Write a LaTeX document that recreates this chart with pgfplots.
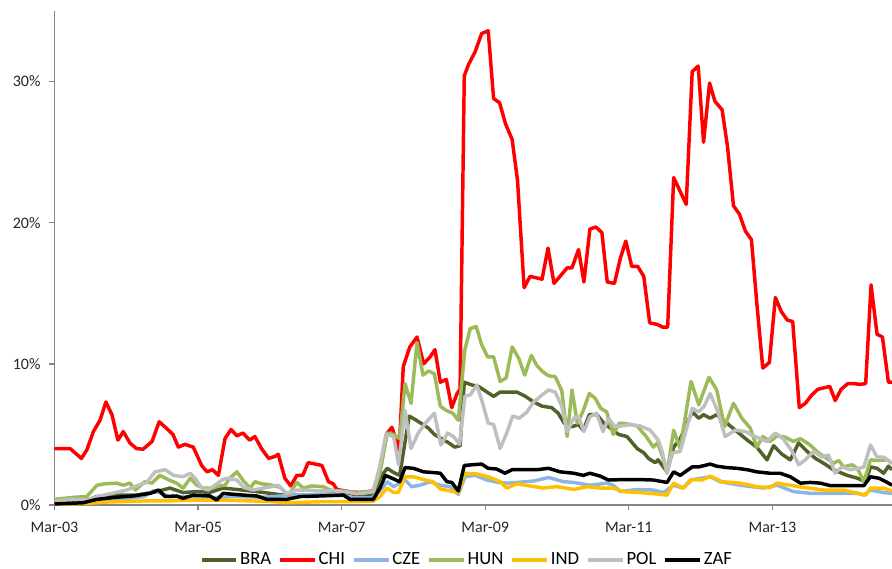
\documentclass[border=0pt]{standalone}
\usepackage{pgfplots}
\pgfplotsset{compat=1.18}
\usepackage{fontspec}
\setmainfont{Carlito}
\definecolor{cbra}{RGB}{79,98,40}
\definecolor{cchi}{RGB}{255,0,0}
\definecolor{ccze}{RGB}{141,180,226}
\definecolor{chun}{RGB}{155,187,89}
\definecolor{cind}{RGB}{255,192,0}
\definecolor{cpol}{RGB}{191,191,191}
\definecolor{czaf}{RGB}{0,0,0}
\definecolor{axgray}{RGB}{134,134,134}
\begin{document}
\begin{tikzpicture}
\useasboundingbox (-40.875pt,-47.25pt) rectangle (628.125pt,378.75pt);
\begin{axis}[
  at={(0pt,0pt)}, anchor=south west,
  scale only axis, width=628.125pt, height=370.5pt,
  xmin=0, xmax=140, ymin=0, ymax=35,
  enlargelimits=false,
  axis x line=bottom, axis y line=left,
  axis line style={draw=axgray, line width=1.2pt, -},
  tick align=outside, major tick length=4pt,
  tick style={draw=axgray, line width=1pt},
  xtick={0,24,48,72,96,120},
  xticklabels={Mar-03,Mar-05,Mar-07,Mar-09,Mar-11,Mar-13},
  ytick={0,10,20,30},
  yticklabels={0\%,10\%,20\%,30\%},
  ticklabel style={font=\fontsize{12}{14}\selectfont, text=black!85},
  yticklabel style={xshift=-3pt},
  xticklabel style={yshift=-5pt},
  legend columns=7,
  legend style={at={(0.4925,-0.111)}, anchor=center, draw=none, fill=none,
    font=\fontsize{14}{16}\selectfont, column sep=0pt,
    nodes={inner sep=1.5pt},
    /tikz/every even column/.append style={column sep=4pt}},
  legend image code/.code={\draw[#1] (0pt,0pt) -- (26pt,0pt);},
  every axis plot/.append style={line width=2.6pt, line join=round},
]
% BRA
\addplot[cbra] coordinates {(0,0.12)(4.8,0.23)(7.1,0.6)(10.4,0.7)(13.7,0.7)(17.1,0.95)(19.3,1.2)(21.5,0.88)(23.8,0.95)(26.0,0.9)(28.2,1.2)(30.5,1.1)(33.8,0.95)(38.3,0.7)(42.2,0.7)(46.1,0.78)(48.9,0.83)(51.1,0.7)(53.3,0.7)(54.4,1.9)(55.6,2.6)(56.7,2.3)(57.7,2.1)(59.3,6.3)(60.5,6.0)(61.6,5.7)(62.5,5.45)(63.5,5.0)(64.7,4.7)(65.9,4.4)(66.9,4.1)(67.8,4.2)(68.5,8.7)(69.8,8.5)(70.9,8.4)(72.3,8.0)(73.4,7.7)(74.5,8.0)(75.9,8.0)(77.3,8.0)(78.7,7.7)(80.1,7.3)(81.5,7.0)(83.1,6.9)(84.2,6.5)(85.2,5.8)(86.5,5.55)(87.6,5.7)(88.4,5.3)(89.4,6.4)(90.7,6.4)(91.8,5.8)(92.9,5.45)(94.3,5.0)(95.7,4.85)(97.4,4.0)(98.5,3.7)(99.3,3.3)(100.4,3.0)(100.9,3.2)(102.4,2.35)(103.5,4.1)(104.6,4.7)(106.6,6.6)(107.7,6.15)(108.5,6.4)(109.6,6.15)(110.7,6.4)(112.4,5.8)(114.1,5.2)(115.8,4.6)(117.4,4.1)(119.1,3.2)(120.2,4.2)(121.6,3.6)(123.0,3.2)(124.4,4.4)(125.8,3.8)(127.2,3.3)(128.6,2.95)(130.2,2.5)(132.5,2.1)(134.2,1.9)(135.6,1.65)(136.4,2.7)(137.5,2.6)(138.6,2.25)(139.4,2.75)(140,2.5)};
\addlegendentry{BRA}
% CHI
\addplot[cchi] coordinates {(0,4.0)(2.6,4.0)(4.5,3.3)(5.4,3.9)(6.5,5.2)(7.6,6.0)(8.6,7.3)(9.6,6.4)(10.6,4.6)(11.5,5.2)(12.6,4.4)(13.7,4.0)(14.8,3.95)(16.3,4.5)(17.5,5.9)(18.8,5.4)(19.8,5.0)(20.7,4.1)(21.8,4.3)(23.2,4.1)(24.6,2.8)(25.5,2.35)(26.4,2.5)(27.4,2.1)(28.5,4.7)(29.5,5.35)(30.5,4.9)(31.5,5.1)(32.6,4.6)(33.5,4.85)(34.6,4.0)(35.8,3.3)(36.9,3.45)(37.4,3.6)(38.5,1.9)(39.5,1.35)(40.5,2.1)(41.5,2.1)(42.4,3.0)(43.6,2.9)(44.7,2.8)(45.8,1.65)(46.6,1.5)(47.2,1.1)(48.5,1.0)(50,0.9)(51.5,0.9)(53.3,1.0)(54.4,2.5)(55.6,5.1)(56.4,5.5)(57.2,4.5)(57.6,3.7)(58.3,9.8)(59.4,11.2)(60.6,11.9)(61.7,10.0)(62.8,10.5)(63.6,11.0)(64.5,8.7)(65.5,8.9)(66.4,6.9)(67.3,7.9)(67.8,8.2)(68.5,30.4)(69.2,31.2)(70.3,32.1)(71.4,33.4)(72.5,33.6)(73.4,28.8)(74.4,28.5)(75.4,27.0)(76.5,25.9)(77.4,23.0)(78.5,15.4)(79.5,16.2)(81.5,16.0)(82.5,18.2)(83.5,15.7)(85.7,16.8)(86.5,16.8)(87.6,18.1)(88.5,15.8)(89.5,19.55)(90.5,19.7)(91.5,19.3)(92.4,15.8)(93.6,15.7)(94.6,17.5)(95.5,18.7)(96.5,16.9)(97.5,16.9)(98.5,16.2)(99.5,12.9)(100.7,12.8)(101.7,12.6)(102.5,12.6)(103.5,23.2)(104.5,22.3)(105.6,21.3)(106.6,30.7)(107.6,31.1)(108.5,25.7)(109.5,29.9)(110.4,28.6)(111.6,28.0)(112.5,25.4)(113.5,21.2)(114.5,20.6)(115.5,19.4)(116.5,18.8)(117.4,14.3)(118.4,9.7)(119.5,10.1)(120.5,14.7)(121.5,13.7)(122.5,13.1)(123.4,13.0)(124.5,6.9)(125.5,7.2)(126.6,7.8)(127.6,8.2)(128.6,8.3)(129.6,8.4)(130.5,7.4)(131.5,8.2)(132.6,8.6)(133.6,8.6)(134.6,8.55)(135.6,8.6)(136.5,15.6)(137.5,12.1)(138.4,11.9)(139.4,8.7)(140,8.7)};
\addlegendentry{CHI}
% CZE
\addplot[ccze] coordinates {(0,0.1)(5,0.15)(8,0.35)(12,0.45)(15,0.6)(16.5,1.0)(17.5,0.9)(19,0.6)(22,0.6)(26,0.5)(30,0.6)(35,0.55)(40,0.7)(44,0.75)(48,0.7)(50,0.5)(53,0.5)(54.4,1.0)(55.6,1.65)(56.7,1.3)(57.7,1.55)(58.6,1.77)(59.7,1.3)(61.1,1.4)(62.8,1.65)(64.5,1.4)(66.1,1.3)(67.5,0.75)(68.6,2.0)(70.3,2.1)(72.3,1.77)(74.2,1.6)(75.6,1.55)(77.3,1.6)(80.1,1.7)(82.6,1.95)(85.1,1.65)(86.8,1.6)(89.5,1.4)(92.3,1.55)(93.4,1.4)(94.6,0.95)(97.4,1.1)(100.1,1.06)(101.8,0.88)(103.5,1.4)(105.1,1.2)(106.3,1.77)(109.6,2.0)(111.3,1.65)(114.6,1.4)(118.5,1.2)(120.8,1.4)(123.5,0.95)(126.3,0.83)(129.7,0.83)(134.2,0.83)(135.3,0.7)(136.4,1.06)(138.6,0.88)(140,0.83)};
\addlegendentry{CZE}
% HUN
\addplot[chun] coordinates {(0,0.4)(3.4,0.55)(5.4,0.6)(7.1,1.4)(8.4,1.5)(10.4,1.55)(11.5,1.4)(12.6,1.55)(13.5,1.06)(15.1,1.65)(16.3,1.55)(17.6,2.1)(19.0,1.8)(20.4,1.55)(21.5,1.2)(22.7,1.9)(23.8,1.4)(24.9,1.2)(26.3,1.2)(27.4,1.35)(28.5,1.4)(29.3,1.9)(30.5,2.35)(31.6,1.7)(32.7,1.2)(33.5,1.65)(34.6,1.5)(35.8,1.45)(36.9,1.35)(37.7,1.25)(39.1,0.7)(40.5,1.6)(41.6,1.2)(43.0,1.35)(44.9,1.3)(46.1,1.06)(47.7,1.0)(49.4,0.95)(50.5,0.8)(51.6,0.95)(53.3,0.95)(54.4,2.25)(55.6,5.1)(56.7,5.0)(57.7,4.7)(58.6,8.6)(59.6,7.2)(60.6,11.5)(61.6,9.2)(62.5,9.5)(63.5,9.3)(64.5,7.0)(65.5,6.7)(66.6,6.5)(67.5,6.0)(68.6,11.0)(69.5,12.5)(70.5,12.65)(71.4,11.35)(72.4,10.5)(73.4,10.5)(74.5,8.75)(75.5,9.0)(76.5,11.2)(77.6,10.4)(78.6,9.2)(79.7,10.6)(80.6,9.9)(81.6,9.45)(82.6,9.15)(83.7,9.1)(84.8,8.1)(85.7,4.85)(86.5,8.15)(87.4,5.8)(88.4,6.7)(89.4,7.9)(90.4,7.55)(91.3,6.85)(92.3,6.6)(93.4,5.0)(94.4,5.8)(95.7,5.75)(97.4,5.6)(99.0,4.8)(100.1,4.1)(100.8,4.4)(101.6,3.5)(102.4,2.25)(103.5,5.3)(104.6,4.0)(106.4,8.75)(107.7,7.1)(109.4,9.05)(110.7,8.15)(112.0,5.55)(113.5,7.2)(114.9,6.15)(116.3,5.45)(117.4,4.1)(118.4,4.85)(119.6,4.5)(120.8,4.9)(122.2,4.8)(123.5,4.5)(124.7,4.7)(126.3,4.25)(127.7,3.7)(129.1,3.3)(130.2,2.95)(131.1,3.15)(131.9,2.7)(133.3,2.85)(134.2,2.6)(135.3,1.65)(136.4,3.2)(137.8,3.15)(139.2,3.2)(140,2.95)};
\addlegendentry{HUN}
% IND
\addplot[cind] coordinates {(0,0.05)(5,0.1)(8,0.2)(12,0.25)(16,0.3)(20,0.3)(24,0.35)(28,0.35)(32,0.3)(36,0.25)(38.8,0.16)(44.4,0.23)(50,0.23)(53.3,0.28)(54.4,0.6)(55.6,1.2)(56.7,0.88)(57.5,0.9)(58.6,2.0)(60.0,2.0)(61.7,1.8)(63.3,1.65)(64.5,1.13)(66.1,1.0)(67.5,0.88)(68.6,2.25)(70.6,2.2)(72.5,2.0)(74.5,1.65)(75.6,1.2)(77.3,1.5)(79.5,1.35)(81.7,1.2)(84.0,1.3)(86.8,1.1)(89.0,1.3)(91.2,1.2)(93.4,1.2)(95.1,0.95)(97.9,0.88)(100.7,0.78)(102.4,0.7)(103.5,1.55)(105.1,1.2)(106.6,1.8)(108.2,1.77)(109.6,2.05)(111.6,1.65)(114.6,1.55)(117.4,1.3)(119.6,1.23)(120.8,1.55)(123.0,1.4)(125.2,1.25)(128.6,1.06)(131.9,1.06)(135.6,0.7)(136.4,1.2)(138.6,1.2)(140,1.0)};
\addlegendentry{IND}
% POL
\addplot[cpol] coordinates {(0,0.25)(2.9,0.4)(5.4,0.35)(7.3,0.6)(9.6,0.83)(12.1,1.06)(14.0,1.4)(15.4,1.6)(16.8,2.35)(18.5,2.5)(19.9,2.1)(21.5,2.0)(22.7,2.25)(23.5,1.9)(24.6,1.2)(25.7,1.06)(26.8,1.4)(28.0,1.77)(28.8,1.9)(30.5,1.77)(31.6,1.25)(33.2,1.06)(34.9,1.2)(36.3,1.3)(37.4,1.4)(38.8,0.83)(40.5,1.06)(42.2,1.06)(44.4,1.0)(46.6,1.0)(48.3,0.95)(50.0,0.83)(51.6,0.83)(53.3,0.95)(54.4,2.8)(55.4,5.0)(56.7,4.85)(57.5,2.85)(58.6,6.7)(59.6,4.0)(60.8,5.1)(62.2,5.9)(63.5,6.5)(64.6,4.25)(65.7,5.1)(66.7,4.85)(67.7,4.3)(68.6,7.7)(69.5,7.8)(70.6,8.5)(71.4,7.45)(72.5,5.8)(73.4,5.7)(74.5,4.0)(75.6,5.1)(76.6,6.3)(77.7,6.15)(79.0,6.6)(80.1,7.3)(81.5,7.8)(82.6,8.15)(83.7,8.0)(84.8,7.0)(85.7,5.2)(86.8,6.15)(87.6,6.25)(88.5,5.2)(89.5,6.25)(90.6,6.5)(91.7,5.2)(92.6,6.15)(93.7,5.55)(94.8,5.6)(96.2,5.7)(97.9,5.6)(99.6,5.3)(100.9,4.6)(101.5,3.9)(102.4,2.25)(103.2,3.7)(104.6,3.8)(106.6,6.85)(107.7,6.6)(108.6,7.0)(109.6,7.9)(110.8,6.7)(112.1,4.85)(113.8,5.3)(115.5,5.2)(117.1,4.85)(119.1,4.5)(120.5,5.1)(121.9,4.65)(123.3,3.8)(124.4,2.85)(125.5,3.2)(126.9,3.8)(128.3,3.4)(129.4,3.55)(130.5,2.25)(131.6,2.7)(133.0,2.5)(134.5,2.6)(135.3,2.7)(136.4,4.25)(137.5,3.4)(138.6,3.4)(140,2.95)};
\addlegendentry{POL}
% ZAF
\addplot[czaf] coordinates {(0,0.07)(4.8,0.16)(7.1,0.4)(10.4,0.55)(13.2,0.64)(16.0,0.83)(17.4,1.06)(18.5,0.6)(20.4,0.64)(21.5,0.47)(23.2,0.7)(26.0,0.64)(27.1,0.35)(28.2,0.83)(29.3,0.78)(31.6,0.7)(33.8,0.64)(35.5,0.4)(38.8,0.4)(41.1,0.6)(44.4,0.64)(48.3,0.7)(49.4,0.4)(53.3,0.4)(54.4,1.2)(55.3,2.1)(56.4,1.9)(57.7,1.65)(58.6,2.65)(60.0,2.6)(61.7,2.35)(63.3,2.3)(64.5,2.25)(65.6,1.65)(66.4,1.6)(67.5,1.0)(68.5,2.8)(69.8,2.85)(71.4,2.9)(72.5,2.6)(73.9,2.55)(75.3,2.25)(76.5,2.5)(78.4,2.5)(80.6,2.5)(82.6,2.6)(84.5,2.35)(86.8,2.25)(88.4,2.1)(89.5,2.25)(91.2,2.05)(92.6,1.77)(95.1,1.8)(97.9,1.8)(100.1,1.77)(102.4,1.6)(103.5,2.35)(104.6,2.1)(106.6,2.7)(107.7,2.7)(109.6,2.9)(110.7,2.75)(112.4,2.65)(114.1,2.6)(115.8,2.5)(117.4,2.35)(119.6,2.25)(121.3,2.25)(123.0,2.0)(124.7,1.55)(126.3,1.6)(128.0,1.55)(129.7,1.37)(131.9,1.37)(135.3,1.37)(136.4,2.0)(137.8,1.9)(139.2,1.6)(140,1.4)};
\addlegendentry{ZAF}
\end{axis}
\end{tikzpicture}
\end{document}
